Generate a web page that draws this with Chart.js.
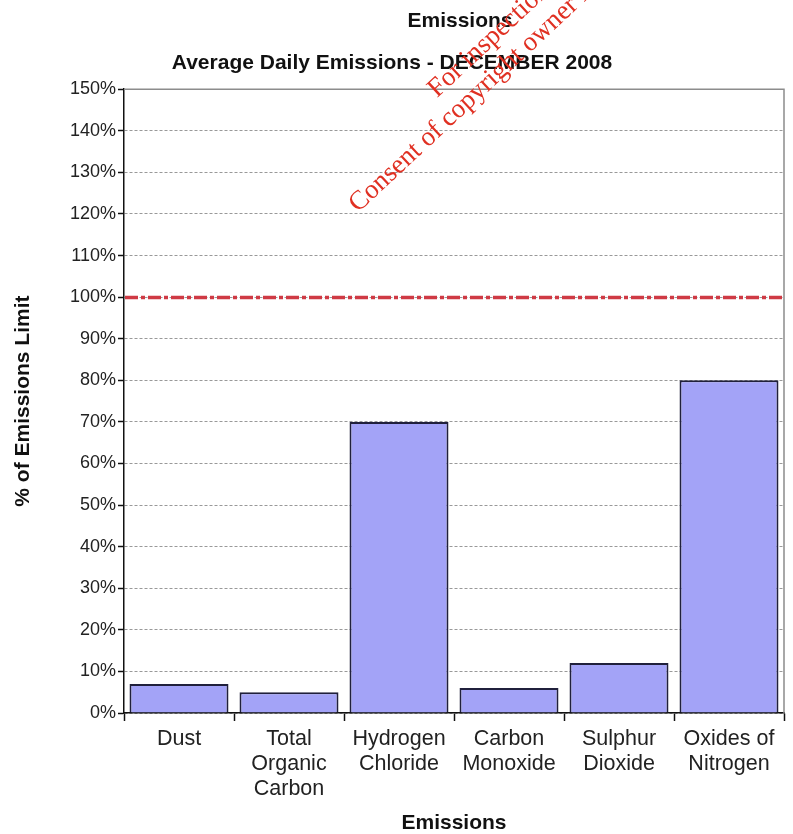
<!DOCTYPE html>
<html>
<head>
<meta charset="utf-8">
<script src="https://cdn.jsdelivr.net/npm/chart.js@4.4.1/dist/chart.umd.min.js"></script>
<style>
  html, body { margin: 0; padding: 0; background: #fff; }
  #wrap { width: 793px; height: 834px; position: relative; }
</style>
</head>
<body>
<div id="wrap"><canvas id="c" width="793" height="834"></canvas></div>
<script>
// Emission categories (multi-line labels) and their share of the limit, in %
const categories = [
  ['Dust'],
  ['Total', 'Organic', 'Carbon'],
  ['Hydrogen', 'Chloride'],
  ['Carbon', 'Monoxide'],
  ['Sulphur', 'Dioxide'],
  ['Oxides of', 'Nitrogen']
];
const percentOfLimit = [7, 5, 70, 6, 12, 80];
const emissionLimit = 100;
const yTicks = [0, 10, 20, 30, 40, 50, 60, 70, 80, 90, 100, 110, 120, 130, 140, 150];

const FONT = '"Liberation Sans", Arial, sans-serif';

// Header line, frame on top/right, dash-dot limit line and the stamp text
const overlay = {
  id: 'overlay',
  afterDatasetsDraw(chart) {
    const { ctx, chartArea: a, scales: { y } } = chart;
    ctx.save();
    ctx.strokeStyle = '#8c8c8c';
    ctx.lineWidth = 1.5;
    ctx.beginPath();
    ctx.moveTo(a.left, a.top);
    ctx.lineTo(a.right, a.top);
    ctx.lineTo(a.right, a.bottom);
    ctx.stroke();

    const yl = Math.round(y.getPixelForValue(emissionLimit)) + 0.5;
    ctx.strokeStyle = '#cf3a44';
    ctx.lineWidth = 3.5;
    ctx.setLineDash([13, 3, 4, 3]);
    ctx.beginPath();
    ctx.moveTo(a.left + 1, yl);
    ctx.lineTo(a.right, yl);
    ctx.stroke();
    ctx.restore();
  },
  afterDraw(chart) {
    const { ctx } = chart;
    ctx.save();
    ctx.fillStyle = '#111';
    ctx.font = 'bold 21px ' + FONT;
    ctx.textAlign = 'center';
    ctx.textBaseline = 'middle';
    ctx.fillText('Emissions', 460, 21);
    ctx.restore();

    ctx.save();
    ctx.fillStyle = '#e03022';
    ctx.font = '27px "Liberation Serif", "Times New Roman", serif';
    ctx.textBaseline = 'alphabetic';
    ctx.translate(358, 213);
    ctx.rotate(-43 * Math.PI / 180);
    ctx.fillText('Consent of copyright owner required for any other use.', 0, 0);
    ctx.fillText('For inspection purposes only.', 136, -30);
    ctx.restore();
  }
};

new Chart(document.getElementById('c'), {
  type: 'bar',
  data: {
    labels: categories,
    datasets: [{
      data: percentOfLimit,
      backgroundColor: '#a3a3f7',
      borderColor: '#20203c',
      borderWidth: { top: 2, left: 2, right: 2, bottom: 0 },
      borderSkipped: 'bottom',
      barPercentage: 0.9,
      categoryPercentage: 1.0
    }]
  },
  options: {
    responsive: false,
    animation: false,
    devicePixelRatio: 1,
    layout: { padding: { left: 0, right: 9, top: 0, bottom: 0 } },
    plugins: {
      legend: { display: false },
      tooltip: { enabled: false },
      title: { display: false },
      subtitle: {
        display: true,
        text: 'Average Daily Emissions - DECEMBER 2008',
        color: '#111',
        font: { family: FONT, size: 21, weight: 'bold', lineHeight: 1.2 },
        padding: { top: 51, bottom: 13 }
      }
    },
    scales: {
      x: {
        grid: {
          display: true,
          offset: true,
          drawOnChartArea: false,
          drawTicks: true,
          tickLength: 8,
          tickColor: '#111',
          tickWidth: 1.5
        },
        border: { display: true, color: '#111', width: 1.5 },
        ticks: {
          color: '#222',
          font: { family: FONT, size: 21.5, lineHeight: 1.16 },
          padding: 6,
          maxRotation: 0,
          autoSkip: false
        },
        title: {
          display: true,
          text: 'Emissions',
          color: '#111',
          font: { family: FONT, size: 21, weight: 'bold', lineHeight: 1.0 },
          padding: { top: 0, bottom: 0 }
        },
        afterFit(scale) { scale.height = 121; }
      },
      y: {
        min: 0,
        max: 150,
        afterBuildTicks(scale) { scale.ticks = yTicks.map(v => ({ value: v })); },
        grid: {
          color: '#999',
          lineWidth: 1,
          drawTicks: true,
          tickLength: 6,
          tickColor: '#111',
          tickWidth: 1.5
        },
        border: { display: true, color: '#111', width: 1.5, dash: [3, 2] },
        ticks: {
          color: '#222',
          font: { family: FONT, size: 18 },
          padding: 2,
          callback: v => v + '%'
        },
        title: {
          display: true,
          text: '% of Emissions Limit',
          color: '#111',
          font: { family: FONT, size: 21, weight: 'bold' },
          padding: { top: 11, bottom: 0 }
        },
        afterFit(scale) { scale.width = 124; }
      }
    }
  },
  plugins: [overlay]
});
</script>
</body>
</html>
